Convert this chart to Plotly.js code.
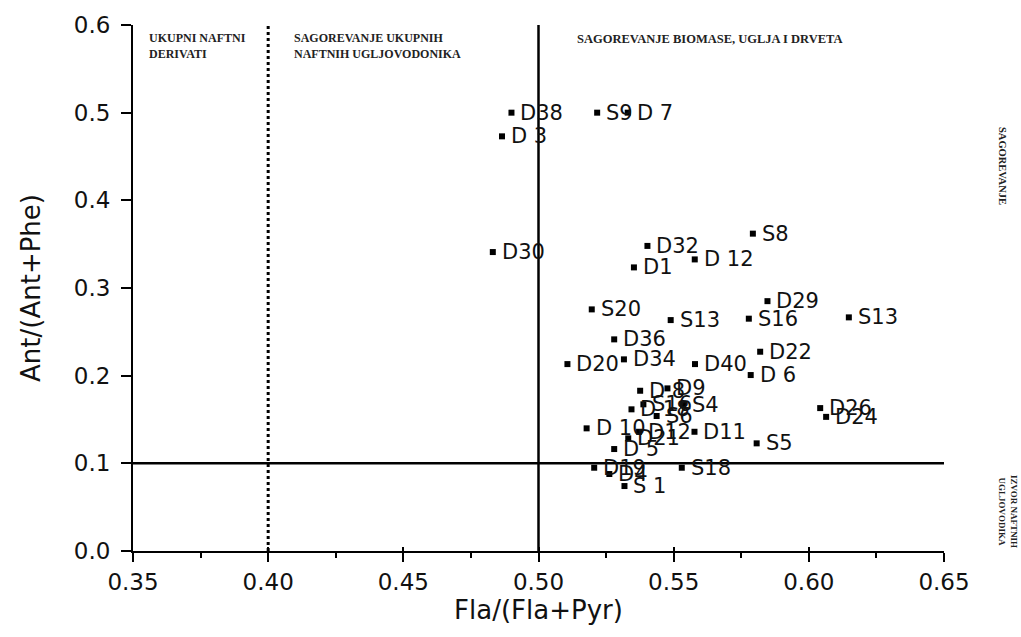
<!DOCTYPE html>
<html>
<head>
<meta charset="utf-8">
<script src="https://cdn.plot.ly/plotly-3.0.1.min.js"></script>
<style>html,body{margin:0;padding:0;background:#fff;}#chart{width:1021px;height:637px;}</style>
</head>
<body>
<div id="chart"></div>
<script>
// Sample labels and ratios
const sampleLabels = ["D38","S9","D 7","D 3","D30","S8","D32","D1","D 12","D29","S20","S13","S16","S13","D36","D22","D20","D34","D40","D 6","D 8","D9","D 18","S16","S4","S6","D26","D24","D 10","D12","D21","D11","S5","D 5","D19","D4","S18","S 1"];
const flaRatio = [0.490,0.5217,0.533,0.4865,0.4831,0.5793,0.5403,0.5353,0.5578,0.5847,0.5197,0.5489,0.5778,0.6148,0.528,0.582,0.5107,0.5316,0.5579,0.5785,0.5376,0.5477,0.5344,0.5388,0.5535,0.5437,0.6042,0.6064,0.5178,0.5372,0.5332,0.5577,0.5807,0.528,0.5206,0.5262,0.553,0.5318];
const antRatio = [0.500,0.500,0.500,0.473,0.341,0.362,0.348,0.3235,0.3326,0.285,0.2756,0.2634,0.265,0.2665,0.2414,0.2273,0.2132,0.2186,0.2132,0.2007,0.1828,0.1855,0.1616,0.1673,0.1665,0.154,0.163,0.153,0.1399,0.136,0.1285,0.136,0.1228,0.1163,0.095,0.0878,0.095,0.0741];

// Threshold lines
const dottedX = 0.40;
const solidX = 0.50;
const solidY = 0.10;

const xTickVals = [0.35,0.40,0.45,0.50,0.55,0.60,0.65];
const yTickVals = [0.0,0.1,0.2,0.3,0.4,0.5,0.6];

const serif = "Liberation Serif, Times New Roman, serif";
const sans = "DejaVu Sans, Arial, sans-serif";

const traces = [
  {
    type: "scatter",
    mode: "markers",
    x: flaRatio,
    y: antRatio,
    text: sampleLabels,
    marker: {symbol: "square", size: 6, color: "#000"},
    cliponaxis: false,
    hoverinfo: "x+y+text",
    showlegend: false
  },
  {type: "scatter", x: [], y: [], xaxis: "x2", yaxis: "y", showlegend: false}
];

const pointLabels = sampleLabels.map((t, i) => ({
  xref: "x", yref: "y", x: flaRatio[i], y: antRatio[i],
  text: t, showarrow: false, xanchor: "left", yanchor: "middle", xshift: 7, yshift: 0,
  font: {family: sans, size: 21, color: "#111"}
}));

const layout = {
  width: 1021,
  height: 637,
  margin: {l: 133, r: 77, t: 25, b: 86},
  paper_bgcolor: "#fff",
  plot_bgcolor: "#fff",
  showlegend: false,
  xaxis: {
    range: [0.35, 0.65],
    tickvals: xTickVals,
    tickformat: ".2f",
    ticks: "outside",
    ticklen: 9,
    tickwidth: 2,
    tickcolor: "#000",
    minor: {dtick: 0.025, tick0: 0.35, ticks: "outside", ticklen: 5, tickwidth: 2, tickcolor: "#000"},
    showline: true,
    linecolor: "#000",
    linewidth: 2,
    showgrid: false,
    zeroline: false,
    tickfont: {family: sans, size: 23, color: "#111"},
    title: {text: "Fla/(Fla+Pyr)", font: {family: sans, size: 26, color: "#111"}, standoff: 6}
  },
  xaxis2: {
    overlaying: "x",
    matches: "x",
    anchor: "y",
    side: "bottom",
    range: [0.35, 0.65],
    tickvals: xTickVals,
    showticklabels: false,
    ticks: "inside",
    ticklen: 4,
    tickwidth: 2,
    tickcolor: "#000",
    showline: false,
    showgrid: false,
    zeroline: false
  },
  yaxis: {
    range: [0, 0.6],
    tickvals: yTickVals,
    tickformat: ".1f",
    ticks: "outside",
    ticklen: 10,
    tickwidth: 2,
    tickcolor: "#000",
    ticklabelstandoff: 6,
    showline: true,
    linecolor: "#000",
    linewidth: 2,
    showgrid: false,
    zeroline: false,
    tickfont: {family: sans, size: 23, color: "#111"},
    title: {text: "Ant/(Ant+Phe)", font: {family: sans, size: 26, color: "#111"}, standoff: 26}
  },
  shapes: [
    {type: "line", xref: "x", yref: "y", x0: dottedX, x1: dottedX, y0: 0, y1: 0.6, line: {color: "#000", width: 3, dash: "dot"}},
    {type: "line", xref: "x", yref: "y", x0: solidX, x1: solidX, y0: 0, y1: 0.6, line: {color: "#000", width: 2.5}},
    {type: "line", xref: "x", yref: "y", x0: 0.35, x1: 0.65, y0: solidY, y1: solidY, line: {color: "#000", width: 2.5}}
  ],
  annotations: pointLabels.concat([
    {xref: "x", yref: "y", x: 0.3552, y: 0.596, xanchor: "left", yanchor: "top", align: "left", showarrow: false,
     text: "<b>UKUPNI NAFTNI<br>DERIVATI</b>", font: {family: serif, size: 12, color: "#222"}},
    {xref: "x", yref: "y", x: 0.4088, y: 0.596, xanchor: "left", yanchor: "top", align: "left", showarrow: false,
     text: "<b>SAGOREVANJE UKUPNIH<br>NAFTNIH UGLJOVODONIKA</b>", font: {family: serif, size: 12, color: "#222"}},
    {xref: "x", yref: "y", x: 0.5135, y: 0.594, xanchor: "left", yanchor: "top", align: "left", showarrow: false,
     text: "<b>SAGOREVANJE BIOMASE, UGLJA I DRVETA</b>", font: {family: serif, size: 12.5, color: "#222"}},
    {xref: "paper", yref: "paper", x: 1.0715, y: 0.732, xanchor: "center", yanchor: "middle", textangle: 90, showarrow: false,
     text: "<b>SAGOREVANJE</b>", font: {family: serif, size: 10.5, color: "#222"}},
    {xref: "paper", yref: "paper", x: 1.079, y: 0.076, xanchor: "center", yanchor: "middle", textangle: 90, showarrow: false,
     text: "<b>IZVOR NAFTNIH<br>UGLJOVODIKA</b>", font: {family: serif, size: 9, color: "#222"}}
  ])
};

Plotly.newPlot("chart", traces, layout, {displayModeBar: false, staticPlot: true});
</script>
</body>
</html>
